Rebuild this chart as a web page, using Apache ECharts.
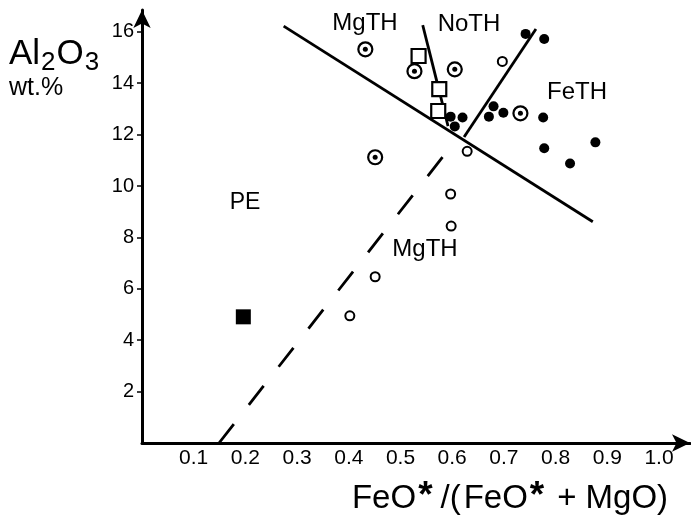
<!DOCTYPE html>
<html>
<head>
<meta charset="utf-8">
<script src="https://cdn.jsdelivr.net/npm/echarts@6/dist/echarts.min.js"></script>
<style>
html,body{margin:0;padding:0;background:#fff;}
#chart{width:691px;height:517px;}
</style>
</head>
<body>
<div id="chart"></div>
<script>
// ---- data ----
const xTickLabels = [0.1, 0.2, 0.3, 0.4, 0.5, 0.6, 0.7, 0.8, 0.9, 1.0];
const yTickLabels = [2, 4, 6, 8, 10, 12, 14, 16];

const openCircles = [[0.697,14.85],[0.629,11.35],[0.597,9.69],[0.598,8.44],[0.451,6.47],[0.402,4.95]];
const dottedCircles = [[0.432,15.32],[0.527,14.47],[0.605,14.54],[0.451,11.12],[0.732,12.83]];
const openSquares = [[0.535,15.06],[0.575,13.77],[0.573,12.92]];
const filledSquares = [[0.196,4.91]];
const filledCircles = [[0.597,12.70],[0.620,12.67],[0.605,12.32],[0.680,13.10],[0.671,12.70],[0.699,12.85],
  [0.742,15.92],[0.778,15.72],[0.776,12.67],[0.778,11.47],[0.828,10.88],[0.877,11.70]];

const mainBoundary = [[0.274,16.22],[0.872,8.61]];
const mgNoBoundary = [[0.543,16.26],[0.592,12.33]];
const noFeBoundary = [[0.623,11.91],[0.762,16.11]];
const peBoundary = [[0.149,0],[0.582,11.14]];

const FONT = '"Liberation Sans", Arial, Helvetica, sans-serif';

const chart = echarts.init(document.getElementById('chart'), null, {renderer:'canvas'});

function lineSeries(data, dashed) {
  return {
    type: 'line', data: data, symbol: 'none', silent: true, z: 2,
    lineStyle: {color: '#000', width: 2.8, type: dashed ? [24, 24.4] : 'solid', cap: 'butt', opacity: 1},
    animation: false
  };
}
function scatter(data, symbol, size, style, z) {
  return {type: 'scatter', data: data, symbol: symbol, symbolSize: size, z: z, silent: true,
    itemStyle: Object.assign({opacity: 1}, style)};
}

const option = {
  animation: false,
  backgroundColor: '#fff',
  grid: {left: 142, right: 1, top: 10, bottom: 74, containLabel: false},
  xAxis: {
    type: 'value', min: 0, max: 1.06,
    splitLine: {show: false},
    axisLine: {show: true, lineStyle: {color: '#000', width: 3}, symbol: ['none', 'arrow'], symbolSize: [13, 18]},
    axisTick: {show: false},
    axisLabel: {
      customValues: xTickLabels,
      formatter: v => v.toFixed(1),
      color: '#000', fontSize: 21, fontFamily: FONT, margin: 5
    }
  },
  yAxis: {
    type: 'value', min: 0, max: 16.85,
    splitLine: {show: false},
    axisLine: {show: true, lineStyle: {color: '#000', width: 3}, symbol: ['none', 'arrow'], symbolSize: [13, 18]},
    axisTick: {show: true, customValues: yTickLabels, length: 5, lineStyle: {color: '#000', width: 1.5}},
    axisLabel: {
      customValues: yTickLabels,
      color: '#000', fontSize: 20, fontFamily: FONT, margin: 8
    }
  },
  series: [
    lineSeries(mainBoundary, false),
    lineSeries(mgNoBoundary, false),
    lineSeries(noFeBoundary, false),
    lineSeries(peBoundary, true),
    scatter(openCircles, 'circle', 9, {color: '#fff', borderColor: '#000', borderWidth: 2}, 3),
    scatter(dottedCircles, 'circle', 14, {color: '#fff', borderColor: '#000', borderWidth: 2.2}, 3),
    scatter(dottedCircles, 'circle', 5, {color: '#000'}, 4),
    scatter(openSquares, 'rect', 14, {color: '#fff', borderColor: '#000', borderWidth: 2.2}, 3),
    scatter(filledSquares, 'rect', 15, {color: '#000'}, 3),
    scatter(filledCircles, 'circle', 10, {color: '#000'}, 4)
  ],
  graphic: [
    {type: 'text', left: 9, top: 35, style: {
      text: '{a|Al}{s|2}{a|O}{s|3}',
      rich: {
        a: {fontSize: 35, fontFamily: FONT, fill: '#000', verticalAlign: 'top', lineHeight: 39},
        s: {fontSize: 26, fontFamily: FONT, fill: '#000', verticalAlign: 'bottom', lineHeight: 39, padding: [15, 1, 0, 1]}
      }
    }},
    {type: 'text', left: 9, top: 76, style: {text: 'wt.%', font: '25px ' + FONT, fill: '#000'}},
    {type: 'text', x: 510, y: 497, style: {
      text: '{n|FeO}{s|*}{p|/(}{n|FeO}{s|*}{q|+}{n|MgO)}',
      align: 'center', verticalAlign: 'middle',
      rich: {
        n: {fontSize: 33, fontFamily: FONT, fill: '#000', verticalAlign: 'bottom', lineHeight: 37, padding: [0, 1, 0, 1]},
        p: {fontSize: 33, fontFamily: FONT, fill: '#000', verticalAlign: 'bottom', lineHeight: 37, padding: [0, 2, 0, 3]},
        q: {fontSize: 33, fontFamily: FONT, fill: '#000', verticalAlign: 'bottom', lineHeight: 37, padding: [0, 8, 0, 8]},
        s: {fontSize: 37, fontWeight: 'bold', fontFamily: FONT, fill: '#000', verticalAlign: 'top', lineHeight: 37, padding: [0, 5, 0, 1]}
      }
    }},
    {type: 'text', x: 365, y: 23, style: {text: 'MgTH', font: '24px ' + FONT, fill: '#000', align: 'center', verticalAlign: 'middle'}},
    {type: 'text', x: 469, y: 24, style: {text: 'NoTH', font: '24px ' + FONT, fill: '#000', align: 'center', verticalAlign: 'middle'}},
    {type: 'text', x: 577, y: 92, style: {text: 'FeTH', font: '24px ' + FONT, fill: '#000', align: 'center', verticalAlign: 'middle'}},
    {type: 'text', x: 245, y: 203, style: {text: 'PE', font: '23px ' + FONT, fill: '#000', align: 'center', verticalAlign: 'middle'}},
    {type: 'text', x: 425, y: 249, style: {text: 'MgTH', font: '24px ' + FONT, fill: '#000', align: 'center', verticalAlign: 'middle'}}
  ]
};
chart.setOption(option);
</script>
</body>
</html>
